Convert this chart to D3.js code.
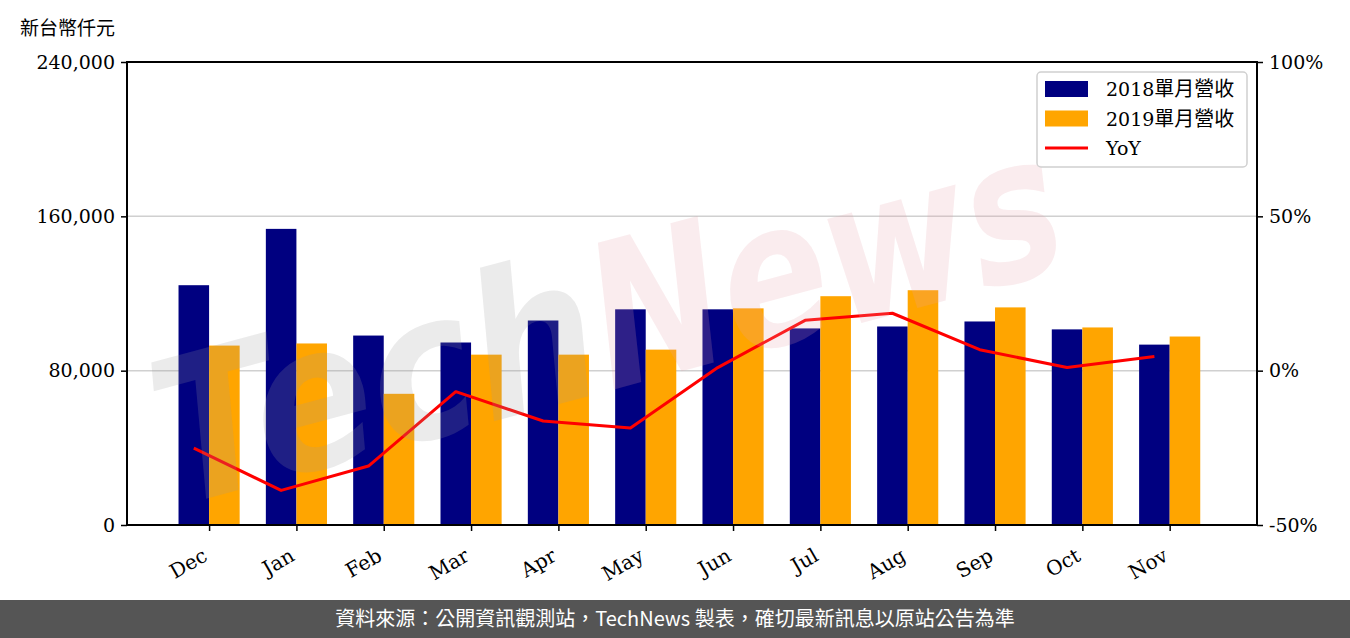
<!DOCTYPE html>
<html><head><meta charset="utf-8">
<script src="https://cdn.jsdelivr.net/npm/d3@7"></script>
<style>
body{margin:0;background:#fff;}
svg{display:block;}
</style></head>
<body>
<script>
const categories = ["Dec","Jan","Feb","Mar","Apr","May","Jun","Jul","Aug","Sep","Oct","Nov"];
const rev2018 = [124300,153500,98200,94600,106000,111800,111800,101900,102900,105500,101400,93500];
const rev2019 = [93000,94100,68000,88300,88300,90900,112300,118600,121700,112800,102400,97700];
const yoy = [-25.1,-38.8,-30.9,-6.8,-16.3,-18.6,1.0,16.3,18.6,6.8,1.0,4.6];
const leftTicks = [0,80000,160000,240000];
const rightTicks = [-50,0,50,100];
const seriesNames = ["2018單月營收","2019單月營收","YoY"];
const unitLabel = "新台幣仟元";
const footerText = "資料來源：公開資訊觀測站，TechNews 製表，確切最新訊息以原站公告為準";

const W = 1350, H = 638;
const L = 127, R = 1257, T = 62, B = 525;
const serif = "'DejaVu Serif', 'Liberation Serif', serif";
const cjk = "'Noto Sans CJK TC', 'Noto Sans CJK SC', sans-serif";

const svg = d3.select("body").append("svg").attr("width", W).attr("height", H);

const x = d3.scaleLinear().domain([-0.94, 12.0]).range([L, R]);
const y = d3.scaleLinear().domain([0, 240000]).range([B, T]);
const y2 = d3.scaleLinear().domain([-50, 100]).range([B, T]);
const bw = x(0.35) - x(0);

// grid
svg.append("g").selectAll("line").data(leftTicks.filter(d => d > 0 && d < 240000)).join("line")
  .attr("x1", L).attr("x2", R).attr("y1", d => y(d)).attr("y2", d => y(d))
  .attr("stroke", "#d0d0d0").attr("stroke-width", 1.5);

// bars
const idx = d3.range(categories.length);
svg.append("g").selectAll("rect").data(idx).join("rect")
  .attr("x", i => x(i) - bw).attr("width", bw)
  .attr("y", i => y(rev2018[i])).attr("height", i => y(0) - y(rev2018[i]))
  .attr("fill", "#000080");
svg.append("g").selectAll("rect").data(idx).join("rect")
  .attr("x", i => x(i)).attr("width", bw)
  .attr("y", i => y(rev2019[i])).attr("height", i => y(0) - y(rev2019[i]))
  .attr("fill", "#FFA500");

// YoY line
const line = d3.line().x(i => x(i - 0.175)).y(i => y2(yoy[i]));
svg.append("path").datum(idx).attr("d", line)
  .attr("fill", "none").attr("stroke", "#FF0000").attr("stroke-width", 3).attr("stroke-linejoin", "round");

// watermark
const wm = svg.append("g").attr("transform", "translate(630,385) rotate(-15)").attr("pointer-events", "none");
wm.append("text").attr("x", -20).attr("y", 0).attr("text-anchor", "end")
  .attr("font-family", "'DejaVu Sans', sans-serif").attr("font-style", "italic").attr("font-weight", "bold")
  .attr("font-size", 200).attr("textLength", 450).attr("lengthAdjust", "spacingAndGlyphs")
  .attr("fill", "#9a9a9a").attr("fill-opacity", 0.2).text("Tech");
wm.append("text").attr("x", -20).attr("y", 0).attr("text-anchor", "start")
  .attr("font-family", "'DejaVu Sans', sans-serif").attr("font-style", "italic").attr("font-weight", "bold")
  .attr("font-size", 200).attr("textLength", 480).attr("lengthAdjust", "spacingAndGlyphs")
  .attr("fill", "#e8a0a8").attr("fill-opacity", 0.2).text("News");

// axes
const fmt = d3.format(",");
const gL = svg.append("g").attr("transform", `translate(${L},0)`)
  .call(d3.axisLeft(y).tickValues(leftTicks).tickFormat(fmt).tickSize(6).tickPadding(6));
const gR = svg.append("g").attr("transform", `translate(${R},0)`)
  .call(d3.axisRight(y2).tickValues(rightTicks).tickFormat(d => d + "%").tickSize(6).tickPadding(6));
const gB = svg.append("g").attr("transform", `translate(0,${B})`)
  .call(d3.axisBottom(x).tickValues(idx).tickFormat(i => categories[i]).tickSize(6).tickPadding(4));
[gL, gR, gB].forEach(g => {
  g.select(".domain").remove();
  g.selectAll(".tick line").attr("stroke", "#000").attr("stroke-width", 1.5);
  g.selectAll("text").attr("font-family", serif).attr("font-size", 19).attr("fill", "#000");
});
gB.selectAll(".tick text")
  .attr("font-size", 20)
  .attr("text-anchor", "end").attr("dy", 0)
  .attr("transform", "translate(-6,26) rotate(-30)");
// spines
svg.append("rect").attr("x", L).attr("y", T).attr("width", R - L).attr("height", B - T)
  .attr("fill", "none").attr("stroke", "#000").attr("stroke-width", 2);

// unit label
svg.append("text").attr("x", 20).attr("y", 35).attr("font-family", cjk).attr("font-size", 19)
  .attr("fill", "#000").text(unitLabel);

// legend
const lg = svg.append("g").attr("transform", "translate(1037,72)");
lg.append("rect").attr("width", 210).attr("height", 95).attr("rx", 4)
  .attr("fill", "#fff").attr("fill-opacity", 0.8).attr("stroke", "#d0d0d0").attr("stroke-width", 1.5);
const colors = ["#000080", "#FFA500", "#FF0000"];
seriesNames.forEach((n, k) => {
  const cy = 17 + k * 29.5;
  if (k < 2) {
    lg.append("rect").attr("x", 8).attr("y", cy - 8).attr("width", 43).attr("height", 16).attr("fill", colors[k]);
  } else {
    lg.append("line").attr("x1", 8).attr("x2", 51).attr("y1", cy).attr("y2", cy)
      .attr("stroke", colors[k]).attr("stroke-width", 3);
  }
  const t = lg.append("text").attr("x", 69).attr("y", cy + 7).attr("font-size", 19).attr("fill", "#000");
  const m = n.match(/^([0-9A-Za-z]+)(.*)$/);
  t.append("tspan").attr("font-family", serif).text(m[1]);
  if (m[2]) t.append("tspan").attr("font-family", cjk).attr("font-size", 20).text(m[2]);
});

// footer
svg.append("rect").attr("x", 0).attr("y", 600).attr("width", W).attr("height", 38).attr("fill", "#555555");
svg.append("text").attr("x", W / 2).attr("y", 626).attr("text-anchor", "middle")
  .attr("font-family", cjk).attr("font-size", 20).attr("fill", "#fff").text(footerText);
</script>
</body></html>
